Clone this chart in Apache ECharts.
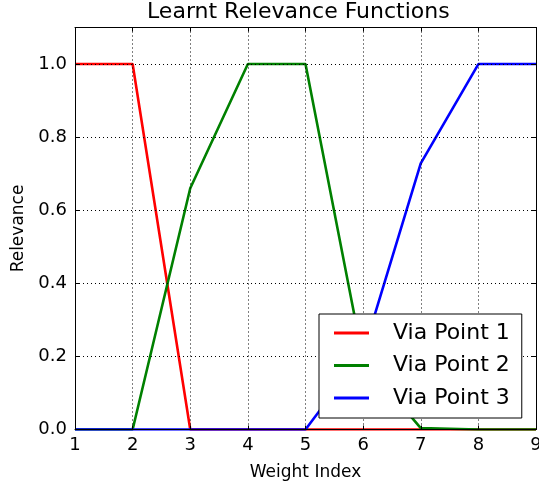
<!DOCTYPE html>
<html>
<head>
<meta charset="utf-8">
<script src="https://cdn.jsdelivr.net/npm/echarts@6/dist/echarts.min.js"></script>
<style>
  html, body { margin: 0; padding: 0; background: #fff; }
  #chart { width: 539px; height: 486px; }
</style>
</head>
<body>
<div id="chart"></div>
<script>
// Weight indices along the horizontal axis
const weightIndex = [1, 2, 3, 4, 5, 6, 7, 8, 9];
// Learnt relevance of each via point per weight
const viaPoint1 = [1, 1, 0, 0, 0, 0, 0, 0, 0];
const viaPoint2 = [0, 0, 0.66, 1, 1, 0.19, 0.004, 0, 0];
const viaPoint3 = [0, 0, 0, 0, 0, 0.21, 0.728, 1, 1];
const seriesNames = ['Via Point 1', 'Via Point 2', 'Via Point 3'];
const seriesColors = ['#ff0000', '#008000', '#0000ff'];

const FONT = 'DejaVu Sans';
const pairs = (ys) => weightIndex.map((x, i) => [x, ys[i]]);

// Plain frame axes for the top and right edges (ticks only, no labels)
const frameAxis = {
  axisLine: { show: true, onZero: false, lineStyle: { color: '#000', width: 1 } },
  axisTick: { show: true, inside: true, length: 4, lineStyle: { color: '#000' } },
  axisLabel: { show: false },
  splitLine: { show: false },
  z: 3
};

const chart = echarts.init(document.getElementById('chart'), null, { renderer: 'canvas' });
chart.setOption({
  animation: false,
  backgroundColor: '#fff',
  textStyle: { fontFamily: FONT },
  title: {
    text: 'Learnt Relevance Functions',
    left: 147,
    top: 1,
    padding: 0,
    textStyle: { fontFamily: FONT, fontSize: 22, fontWeight: 'normal', color: '#000' }
  },
  grid: { left: 75, right: 3, top: 27.5, bottom: 56.5, containLabel: false, outerBoundsMode: 'none' },
  legend: {
    orient: 'vertical',
    left: 319,
    top: 314,
    padding: [8, 12, 9, 15],
    itemGap: 10.5,
    itemWidth: 35,
    itemHeight: 3,
    icon: 'rect',
    backgroundColor: '#fff',
    borderColor: '#000',
    borderWidth: 1,
    borderRadius: 0,
    textStyle: { fontFamily: FONT, fontSize: 22, lineHeight: 22, color: '#000', padding: [0, 0, 0, 19] },
    data: seriesNames,
    z: 10
  },
  xAxis: [
    {
      type: 'value', min: 1, max: 9, interval: 1, position: 'bottom',
      name: 'Weight Index', nameLocation: 'middle', nameGap: 35,
      nameTextStyle: { fontFamily: FONT, fontSize: 17, color: '#000' },
      axisLine: { show: true, onZero: false, lineStyle: { color: '#000', width: 1 } },
      axisTick: { show: true, inside: true, length: 4, lineStyle: { color: '#000' } },
      axisLabel: { fontFamily: FONT, fontSize: 18, color: '#000', margin: 7 },
      splitLine: { show: true, lineStyle: { color: '#000', width: 1, type: [1, 3] } },
      z: 3
    },
    Object.assign({ type: 'value', min: 1, max: 9, interval: 1, position: 'top' }, frameAxis)
  ],
  yAxis: [
    {
      type: 'value', min: 0, max: 1.1, interval: 0.2, position: 'left',
      name: 'Relevance', nameLocation: 'middle', nameGap: 46,
      nameTextStyle: { fontFamily: FONT, fontSize: 17, color: '#000' },
      axisLine: { show: true, onZero: false, lineStyle: { color: '#000', width: 1 } },
      axisTick: { show: true, inside: true, length: 4, lineStyle: { color: '#000' } },
      axisLabel: {
        fontFamily: FONT, fontSize: 18, color: '#000', margin: 8,
        formatter: (v) => (v > 1.05 ? '' : v.toFixed(1))
      },
      splitLine: { show: true, lineStyle: { color: '#000', width: 1, type: [1, 3] } },
      z: 3
    },
    Object.assign({ type: 'value', min: 0, max: 1.1, interval: 0.2, position: 'right' }, frameAxis)
  ],
  series: [viaPoint1, viaPoint2, viaPoint3].map((ys, i) => ({
    name: seriesNames[i],
    type: 'line',
    xAxisIndex: 0,
    yAxisIndex: 0,
    data: pairs(ys),
    symbol: 'none',
    clip: true,
    color: seriesColors[i],
    lineStyle: { color: seriesColors[i], width: 2.6 },
    itemStyle: { color: seriesColors[i] },
    z: 2
  }))
});
</script>
</body>
</html>
